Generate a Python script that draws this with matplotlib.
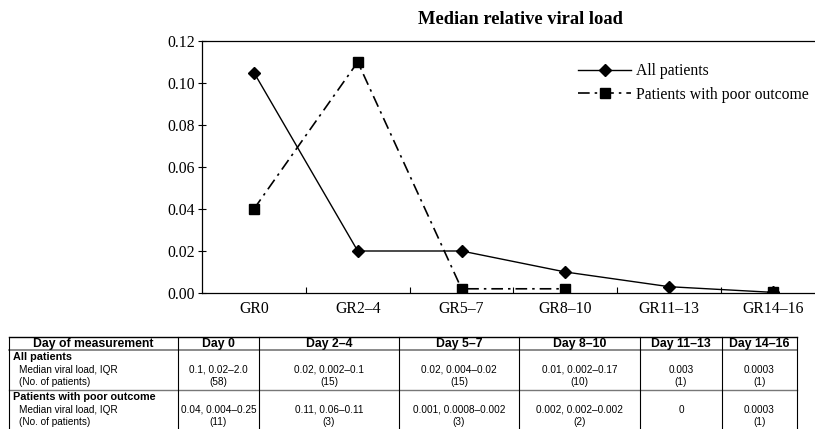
import numpy as np
import matplotlib
matplotlib.use("Agg")
import matplotlib.pyplot as plt

# Chart data
groups = ["GR0", "GR2\u20134", "GR5\u20137", "GR8\u201310", "GR11\u201313", "GR14\u201316"]
all_patients = [0.105, 0.02, 0.02, 0.01, 0.003, 0.0003]
poor_outcome = [0.04, 0.11, 0.002, 0.002, np.nan, 0.0003]
yticks = [0.0, 0.02, 0.04, 0.06, 0.08, 0.10, 0.12]

# Table data
col_heads = ["Day of measurement", "Day 0", "Day 2\u20134", "Day 5\u20137",
             "Day 8\u201310", "Day 11\u201313", "Day 14\u201316"]
row_groups = ["All patients", "Patients with poor outcome"]
row_subs = ["Median viral load, IQR", "(No. of patients)"]
all_iqr = ["0.1, 0.02\u20132.0", "0.02, 0.002\u20130.1", "0.02, 0.004\u20130.02",
           "0.01, 0.002\u20130.17", "0.003", "0.0003"]
all_n = ["(58)", "(15)", "(15)", "(10)", "(1)", "(1)"]
poor_iqr = ["0.04, 0.004\u20130.25", "0.11, 0.06\u20130.11", "0.001, 0.0008\u20130.002",
            "0.002, 0.002\u20130.002", "0", "0.0003"]
poor_n = ["(11)", "(3)", "(3)", "(2)", "", "(1)"]

W, H = 815, 429
fig = plt.figure(figsize=(W / 100, H / 100), dpi=100)

serif = "Liberation Serif"
sans = "Liberation Sans"
sfs = 11.3

# Main chart axes (right edge runs past the image, as in the source)
ax = fig.add_axes([202 / W, 1 - 293 / H, 623 / W, 252 / H])
x = np.arange(len(groups))
ax.plot(x, all_patients, color="black", lw=1.0, marker="D", ms=6,
        label="All patients")
ax.plot(x, poor_outcome, color="black", lw=1.2, ls=(0, (7, 3, 1.5, 3)),
        marker="s", ms=6.5, label="Patients with poor outcome")

ax.set_xlim(-0.5, len(groups) - 0.5)
ax.set_ylim(0, 0.12)
ax.set_yticks(yticks)
ax.set_yticklabels([f"{v:.2f}" for v in yticks], fontfamily=serif, fontsize=sfs)
ax.set_xticks(x)
ax.set_xticklabels(groups, fontfamily=serif, fontsize=sfs)
ax.set_xticks(x[:-1] + 0.5, minor=True)
ax.tick_params(axis="x", which="major", length=0, pad=6)
ax.tick_params(axis="x", which="minor", direction="in", length=4, width=0.8)
ax.tick_params(axis="y", direction="inout", length=6, width=0.8, pad=2)
ax.spines["right"].set_visible(False)
for s in ("top", "bottom", "left"):
    ax.spines[s].set_linewidth(0.9)

ax.text(520 / W, 1 - 20 / H, "Median relative viral load", transform=fig.transFigure,
        ha="center", va="center", fontfamily=serif, fontweight="bold", fontsize=13.3)

leg = ax.legend(loc="upper left", bbox_to_anchor=((564 - 202) / 623, (293 - 49) / 252),
                frameon=False, handlelength=3.4, handletextpad=0.3, labelspacing=0.5,
                prop={"family": serif, "size": sfs})

# Table drawn in pixel coordinates over the whole figure
tx = fig.add_axes([0, 0, 1, 1])
tx.set_xlim(0, W)
tx.set_ylim(H, 0)
tx.axis("off")

edges = [9, 178, 259, 399, 519, 640, 722, 797]
top, head_bot, row1_bot, row2_bot = 337, 350, 390, 440
fs = 7.2

tx.plot([edges[0], edges[-1]], [top, top], color="black", lw=1.0)
tx.plot([edges[0], edges[-1]], [head_bot, head_bot], color="#777777", lw=1.2)
tx.plot([edges[0], edges[-1]], [row1_bot, row1_bot], color="#777777", lw=1.0)
for e in edges:
    tx.plot([e, e], [top, row2_bot], color="black", lw=0.8)

for i, head in enumerate(col_heads):
    tx.text((edges[i] + edges[i + 1]) / 2, 344, head, ha="center", va="center",
            fontfamily=sans, fontweight="bold", fontsize=8.8)

for r, (name, iqr, n) in enumerate([(row_groups[0], all_iqr, all_n),
                                     (row_groups[1], poor_iqr, poor_n)]):
    y0 = head_bot if r == 0 else row1_bot
    tx.text(13, y0 + 7, name, ha="left", va="center", fontfamily=sans,
            fontweight="bold", fontsize=7.8)
    tx.text(19, y0 + 20, row_subs[0], ha="left", va="center", fontfamily=sans,
            fontsize=fs)
    tx.text(19, y0 + 32, row_subs[1], ha="left", va="center", fontfamily=sans,
            fontsize=fs)
    for i in range(len(iqr)):
        cx = (edges[i + 1] + edges[i + 2]) / 2
        tx.text(cx, y0 + 20, iqr[i], ha="center", va="center", fontfamily=sans,
                fontsize=fs)
        if n[i]:
            tx.text(cx, y0 + 32, n[i], ha="center", va="center", fontfamily=sans,
                    fontsize=fs)

fig.savefig("out.png", dpi=100)
